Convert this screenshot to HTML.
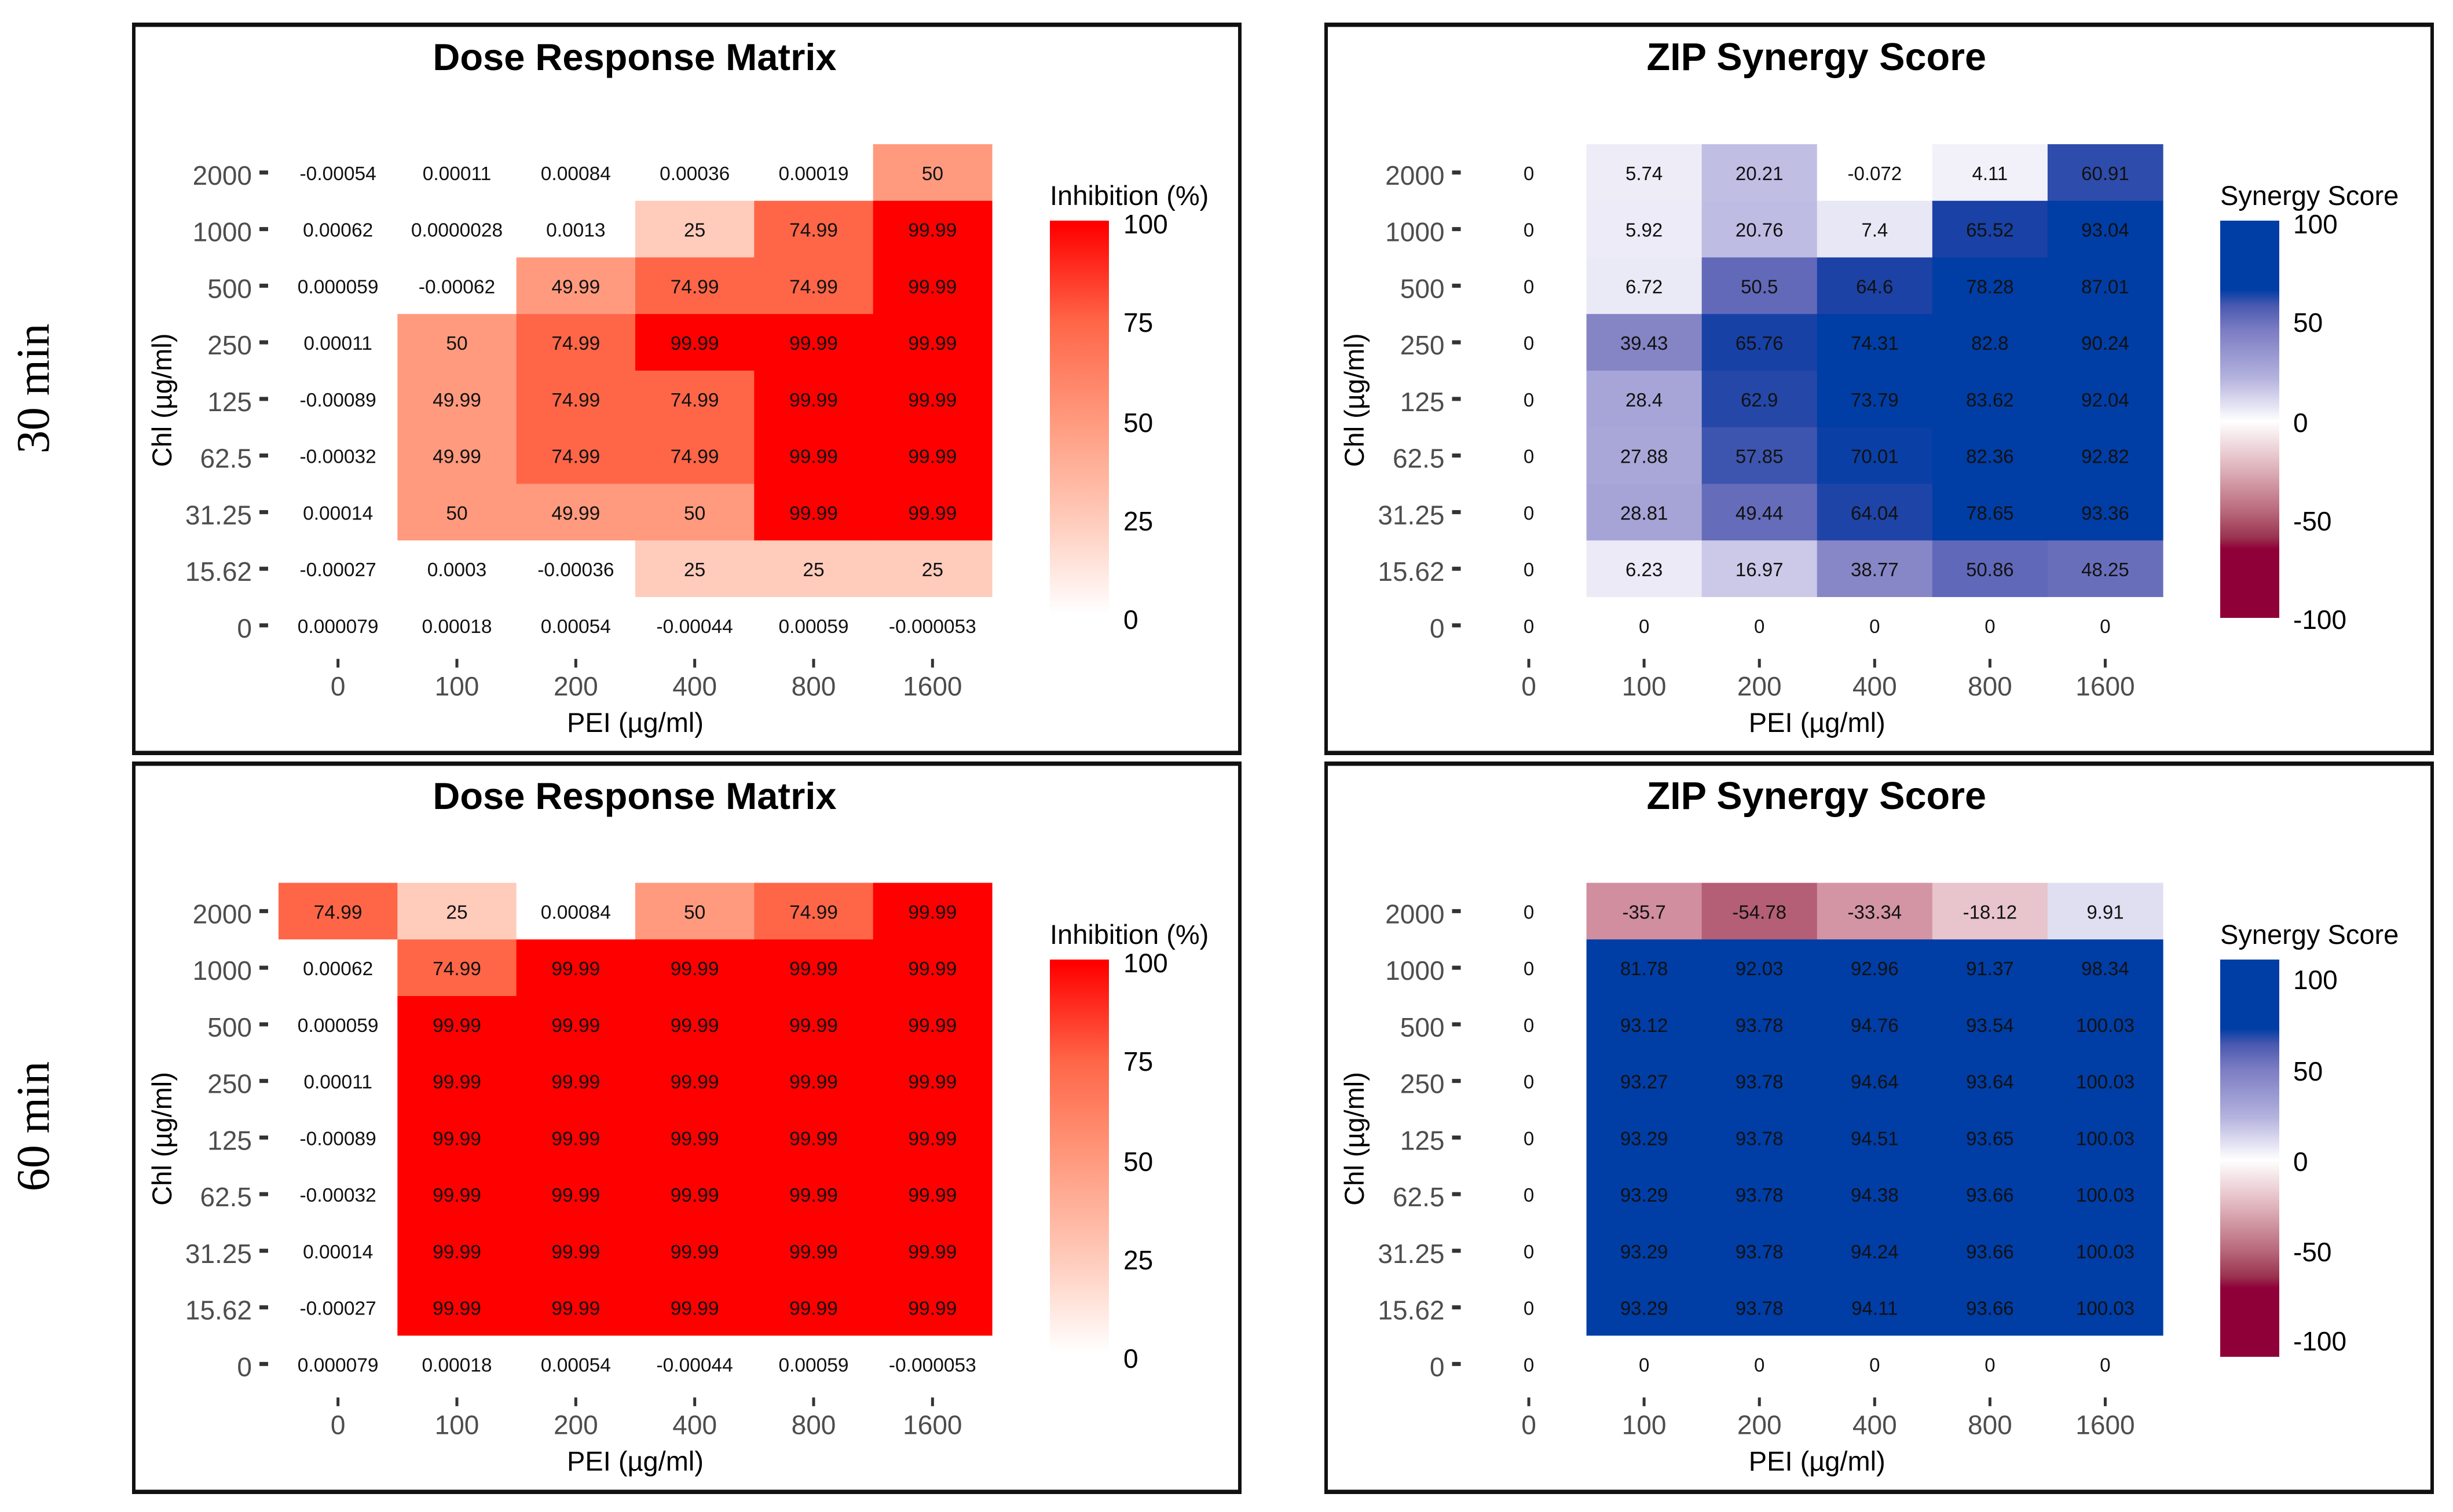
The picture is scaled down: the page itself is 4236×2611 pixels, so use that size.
<!DOCTYPE html>
<html>
<head>
<meta charset="utf-8">
<title>Dose Response and ZIP Synergy Matrices</title>
<style>
html,body{margin:0;padding:0;background:#fff;}
svg{display:block;}
text{font-family:"Liberation Sans",sans-serif;}
</style>
</head>
<body>
<svg id="figure" xmlns="http://www.w3.org/2000/svg" width="4236" height="2611" viewBox="0 0 4236 2611">
<defs>
<linearGradient id="red-ramp" x1="0" y1="0" x2="0" y2="1">
<stop offset="0.01" stop-color="#ff0000"/><stop offset="0.255" stop-color="#ff6648"/><stop offset="0.505" stop-color="#ff9a7e"/><stop offset="0.755" stop-color="#ffcbbb"/><stop offset="0.99" stop-color="#ffffff"/>
</linearGradient>
<linearGradient id="synergy-ramp" x1="0" y1="0" x2="0" y2="1">
<stop offset="0.173" stop-color="#003da5"/><stop offset="0.214" stop-color="#4a59b0"/><stop offset="0.275" stop-color="#7b7cc3"/><stop offset="0.398" stop-color="#b5b3de"/><stop offset="0.505" stop-color="#ffffff"/><stop offset="0.62" stop-color="#e0b5bd"/><stop offset="0.73" stop-color="#b96a7c"/><stop offset="0.797" stop-color="#9a3450"/><stop offset="0.827" stop-color="#8f0038"/>
</linearGradient>
</defs>
<rect x="0" y="0" width="4236" height="2611" fill="#ffffff"/>
</svg>
<script>
const peiDoses = ["0","100","200","400","800","1600"];
const chlDoses = ["2000","1000","500","250","125","62.5","31.25","15.62","0"];

const inhibition30 = [
 [-0.00054,0.00011,0.00084,0.00036,0.00019,50],
 [0.00062,0.0000028,0.0013,25,74.99,99.99],
 [0.000059,-0.00062,49.99,74.99,74.99,99.99],
 [0.00011,50,74.99,99.99,99.99,99.99],
 [-0.00089,49.99,74.99,74.99,99.99,99.99],
 [-0.00032,49.99,74.99,74.99,99.99,99.99],
 [0.00014,50,49.99,50,99.99,99.99],
 [-0.00027,0.0003,-0.00036,25,25,25],
 [0.000079,0.00018,0.00054,-0.00044,0.00059,-0.000053]
];
const synergy30 = [
 [0,5.74,20.21,-0.072,4.11,60.91],
 [0,5.92,20.76,7.4,65.52,93.04],
 [0,6.72,50.5,64.6,78.28,87.01],
 [0,39.43,65.76,74.31,82.8,90.24],
 [0,28.4,62.9,73.79,83.62,92.04],
 [0,27.88,57.85,70.01,82.36,92.82],
 [0,28.81,49.44,64.04,78.65,93.36],
 [0,6.23,16.97,38.77,50.86,48.25],
 [0,0,0,0,0,0]
];
const inhibition60 = [
 [74.99,25,0.00084,50,74.99,99.99],
 [0.00062,74.99,99.99,99.99,99.99,99.99],
 [0.000059,99.99,99.99,99.99,99.99,99.99],
 [0.00011,99.99,99.99,99.99,99.99,99.99],
 [-0.00089,99.99,99.99,99.99,99.99,99.99],
 [-0.00032,99.99,99.99,99.99,99.99,99.99],
 [0.00014,99.99,99.99,99.99,99.99,99.99],
 [-0.00027,99.99,99.99,99.99,99.99,99.99],
 [0.000079,0.00018,0.00054,-0.00044,0.00059,-0.000053]
];
const synergy60 = [
 [0,-35.7,-54.78,-33.34,-18.12,9.91],
 [0,81.78,92.03,92.96,91.37,98.34],
 [0,93.12,93.78,94.76,93.54,100.03],
 [0,93.27,93.78,94.64,93.64,100.03],
 [0,93.29,93.78,94.51,93.65,100.03],
 [0,93.29,93.78,94.38,93.66,100.03],
 [0,93.29,93.78,94.24,93.66,100.03],
 [0,93.29,93.78,94.11,93.66,100.03],
 [0,0,0,0,0,0]
];
const inhibitionLegendLabels = ["100","75","50","25","0"];
const synergyLegendLabels = ["100","50","0","-50","-100"];

const inhibitionScale = [[0,"#ffffff"],[25,"#ffcbbb"],[50,"#ff9a7e"],[75,"#ff6648"],[99.9,"#ff0000"]];
const synergyScale = [[-70,"#8f0038"],[-54.78,"#b45f75"],[-35.7,"#d08e9e"],[-18.12,"#e8c4cc"],[0,"#ffffff"],[5.74,"#edecf7"],[20.21,"#c1bee4"],[39.43,"#8584c5"],[50.5,"#6269b9"],[64.6,"#1c42a6"],[73,"#003da5"]];

const NS = "http://www.w3.org/2000/svg";
const svg = document.getElementById("figure");

function hexToRgb(h){
  return [parseInt(h.slice(1,3),16),parseInt(h.slice(3,5),16),parseInt(h.slice(5,7),16)];
}
function colorFor(scale,v){
  if(v<=scale[0][0]) return scale[0][1];
  for(let i=1;i<scale.length;i++){
    if(v<=scale[i][0]){
      const t=(v-scale[i-1][0])/(scale[i][0]-scale[i-1][0]);
      const a=hexToRgb(scale[i-1][1]);
      const b=hexToRgb(scale[i][1]);
      return "rgb("+a.map((c,k)=>Math.round(c+(b[k]-c)*t)).join(",")+")";
    }
  }
  return scale[scale.length-1][1];
}
function make(parent,tag,attrs,content){
  const el=document.createElementNS(NS,tag);
  for(const k in attrs) el.setAttribute(k,attrs[k]);
  if(content!==undefined) el.textContent=content;
  parent.appendChild(el);
  return el;
}

function drawPanel(cfg){
  const W=cfg.right-cfg.left, cellW=W/peiDoses.length, cellH=97.75;
  const xBand=i=>cfg.left+i*cellW;
  const yBand=r=>cfg.top+r*cellH;
  const g=make(svg,"g",{});
  
  

  const frame=make(g,"rect",{x:cfg.fx,y:cfg.fy,width:cfg.fw,height:cfg.fh,fill:"#111111"});
  
  
  const inner=make(g,"rect",{x:cfg.fx+6,y:cfg.fy+7.5,width:cfg.fw-12,height:cfg.fh-15,fill:"#ffffff"});
  
  

  const title=make(g,"text",{x:(cfg.left+cfg.right)/2-1,y:cfg.fy+82,"text-anchor":"middle","font-size":cfg.titleSize,"font-weight":"bold",fill:"#000"},cfg.title);
  
  

  cfg.values.forEach((row,r)=>{
    row.forEach((v,c)=>{
      const cell=make(g,"rect",{x:xBand(c),y:yBand(r),width:cellW+0.6,height:cellH+0.6,fill:colorFor(cfg.scale,v)});
      
      
    });
  });
  cfg.values.forEach((row,r)=>{
    row.forEach((v,c)=>{
      const label=make(g,"text",{x:xBand(c)+cellW/2,y:yBand(r)+cellH/2+13,"text-anchor":"middle","font-size":cfg.cellFont,fill:"#111"},String(v));
      
      
    });
  });

  chlDoses.forEach((d,r)=>{
    const yc=yBand(r)+cellH/2;
    const tick=make(g,"rect",{x:cfg.left-33,y:yc-3.5,width:15,height:7,fill:"#333333"});
    
    
    const lab=make(g,"text",{x:cfg.left-46,y:yc+21,"text-anchor":"end","font-size":46,fill:"#4d4d4d"},d);
    
    
  });
  const axisBottom=yBand(chlDoses.length);
  peiDoses.forEach((d,c)=>{
    const xc=xBand(c)+cellW/2;
    const tick=make(g,"rect",{x:xc-2.5,y:axisBottom+9,width:5,height:15,fill:"#333333"});
    
    
    const lab=make(g,"text",{x:xc,y:axisBottom+72,"text-anchor":"middle","font-size":46,fill:"#4d4d4d"},d);
    
    
  });

  const xTitle=make(g,"text",{x:(cfg.left+cfg.right)/2,y:axisBottom+135,"text-anchor":"middle","font-size":47,fill:"#000"},"PEI (\u00b5g/ml)");
  
  

  const yMid=cfg.top+442, yX=cfg.fx+68;
  const yTitle=make(g,"text",{x:yX,y:yMid,transform:"rotate(-90 "+yX+" "+yMid+")","text-anchor":"middle","font-size":47,fill:"#000"},"Chl (\u00b5g/ml)");
  
  

  const legTitle=make(g,"text",{x:cfg.legendX,y:cfg.fy+315,"font-size":47,fill:"#000"},cfg.legendTitle);
  
  
  const bar=make(g,"rect",{x:cfg.legendX,y:cfg.fy+342,width:102,height:686,fill:"url(#"+cfg.ramp+")"});
  
  
  cfg.legendLabels.forEach((t,i)=>{
    const lab=make(g,"text",{x:cfg.legendX+cfg.legendLabelOffset,y:cfg.fy+cfg.legendPos[i]+17,"font-size":46,fill:"#000"},t);
    
    
  });
}

const leftCol={left:481,right:1713,fx:228,fw:1916,legendX:1813,legendLabelOffset:127,scale:inhibitionScale,title:"Dose Response Matrix",titleSize:65,cellFont:33.5,legendTitle:"Inhibition (%)",ramp:"red-ramp",legendLabels:inhibitionLegendLabels,legendPos:[347,517,690,860,1030]};
const rightCol={left:2540.5,right:3735,fx:2287,fw:1916,legendX:3834,legendLabelOffset:126,scale:synergyScale,title:"ZIP Synergy Score",titleSize:66.5,cellFont:33,legendTitle:"Synergy Score",ramp:"synergy-ramp",legendLabels:synergyLegendLabels};

drawPanel(Object.assign({},leftCol,{name:"dose-response-30min",top:249,fy:39,fh:1265,values:inhibition30}));
drawPanel(Object.assign({},rightCol,{name:"zip-synergy-30min",top:249,fy:39,fh:1265,values:synergy30,legendPos:[347,517,690,860,1030]}));
drawPanel(Object.assign({},leftCol,{name:"dose-response-60min",top:1524.5,fy:1315,fh:1265,values:inhibition60}));
drawPanel(Object.assign({},rightCol,{name:"zip-synergy-60min",top:1524.5,fy:1315,fh:1265,values:synergy60,legendPos:[376,534,690,846,1000]}));

const rowLabels=[["30 min",671],["60 min",1945]];
rowLabels.forEach(([t,y])=>{
  const lab=make(svg,"text",{x:84,y:y,transform:"rotate(-90 84 "+y+")","text-anchor":"middle","font-size":80,fill:"#000",style:"font-family:'Liberation Serif',serif"},t);
  
  
});
</script>
</body>
</html>
